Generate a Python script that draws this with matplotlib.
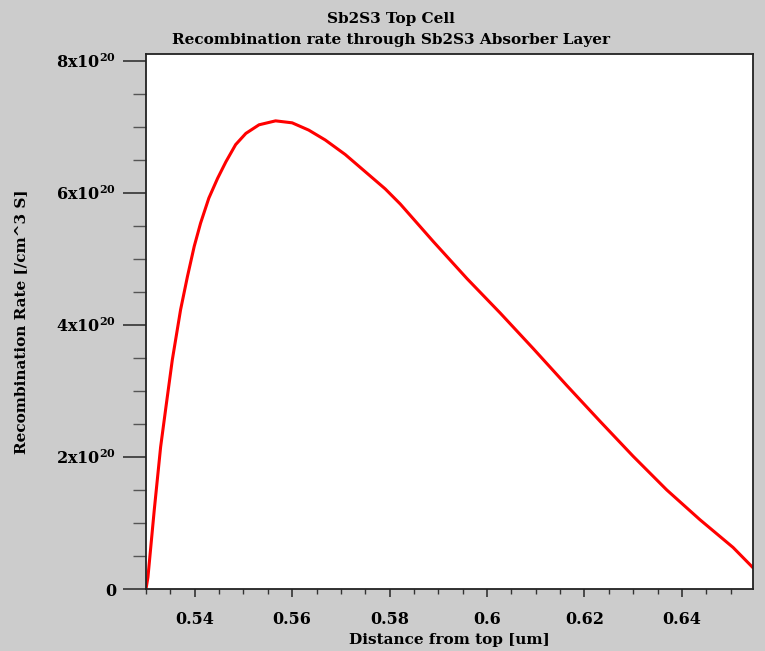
import matplotlib
matplotlib.use("Agg")
import matplotlib.pyplot as plt
from matplotlib.ticker import MultipleLocator, FixedLocator

# Data (distance in um, recombination rate in units of 1e20 /cm^3 s)
distance = [0.5300, 0.5304, 0.5317, 0.5330, 0.5341, 0.5354, 0.5371, 0.5385, 0.5399,
            0.5412, 0.5429, 0.5447, 0.5464, 0.5484, 0.5505, 0.5532, 0.5566, 0.5600,
            0.5634, 0.5668, 0.5709, 0.5750, 0.5791, 0.5822, 0.5890, 0.5959, 0.6027,
            0.6095, 0.6164, 0.6232, 0.6300, 0.6369, 0.6437, 0.6505, 0.6545]
rate_e20 = [0.00, 0.18, 1.20, 2.15, 2.76, 3.47, 4.23, 4.73, 5.19,
            5.54, 5.92, 6.22, 6.47, 6.73, 6.90, 7.03, 7.09, 7.06,
            6.95, 6.80, 6.58, 6.32, 6.06, 5.83, 5.26, 4.70, 4.18,
            3.64, 3.08, 2.54, 2.01, 1.50, 1.05, 0.63, 0.33]
rate = [v * 1e20 for v in rate_e20]

x_ticks = [0.54, 0.56, 0.58, 0.60, 0.62, 0.64]
x_tick_labels = ["0.54", "0.56", "0.58", "0.6", "0.62", "0.64"]
y_ticks = [0, 2e20, 4e20, 6e20, 8e20]
y_tick_labels = ["0", "2x10$^{20}$", "4x10$^{20}$", "6x10$^{20}$", "8x10$^{20}$"]

plt.rcParams['font.family'] = ['DejaVu Serif']
plt.rcParams['mathtext.fontset'] = 'custom'
plt.rcParams['mathtext.rm'] = 'DejaVu Serif:bold'
plt.rcParams['mathtext.it'] = 'DejaVu Serif:bold'
plt.rcParams['mathtext.bf'] = 'DejaVu Serif:bold'

bg = '#cccccc'
fig = plt.figure(figsize=(7.65, 6.51), dpi=100, facecolor=bg)
ax = fig.add_axes([146/765, 1 - 589/651, (753 - 146)/765, (589 - 53.5)/651])
ax.set_facecolor('white')

ax.plot(distance, rate, color='#ff0000', lw=2.2, solid_joinstyle='round')

ax.set_xlim(0.53, 0.6546)
ax.set_ylim(0, 8.11e20)

ax.xaxis.set_major_locator(FixedLocator(x_ticks))
ax.set_xticklabels(x_tick_labels)
ax.xaxis.set_minor_locator(MultipleLocator(0.005))
ax.yaxis.set_major_locator(FixedLocator(y_ticks))
ax.set_yticklabels(y_tick_labels)
ax.yaxis.set_minor_locator(MultipleLocator(0.5e20))

for lab in ax.get_xticklabels() + ax.get_yticklabels():
    lab.set_fontweight('bold')
    lab.set_fontsize(11.5)

ax.tick_params(axis='x', which='major', direction='out', length=5.5, width=1.2,
               color='#333333', pad=10)
ax.tick_params(axis='x', which='minor', direction='out', length=3.5, width=1.0,
               color='#333333')
ax.tick_params(axis='y', which='major', direction='out', length=16.5, width=1.2,
               color='#333333', pad=5)
ax.tick_params(axis='y', which='minor', direction='out', length=9.5, width=1.0,
               color='#555555')

for s in ax.spines.values():
    s.set_linewidth(1.3)
    s.set_color('#222222')

ax.set_ylabel('Recombination Rate [/cm^3 S]', fontsize=11, fontweight='bold')
ax.yaxis.set_label_coords(-0.195, 0.5)

fig.text(449/765, 1 - 640/651, 'Distance from top [um]', ha='center', va='center',
         fontsize=11, fontweight='bold')
fig.text(391/765, 1 - 19/651, 'Sb2S3 Top Cell', ha='center', va='center',
         fontsize=11, fontweight='bold')
fig.text(391/765, 1 - 40/651, 'Recombination rate through Sb2S3 Absorber Layer',
         ha='center', va='center', fontsize=11, fontweight='bold')

fig.savefig('out.png', dpi=100, facecolor=bg)
